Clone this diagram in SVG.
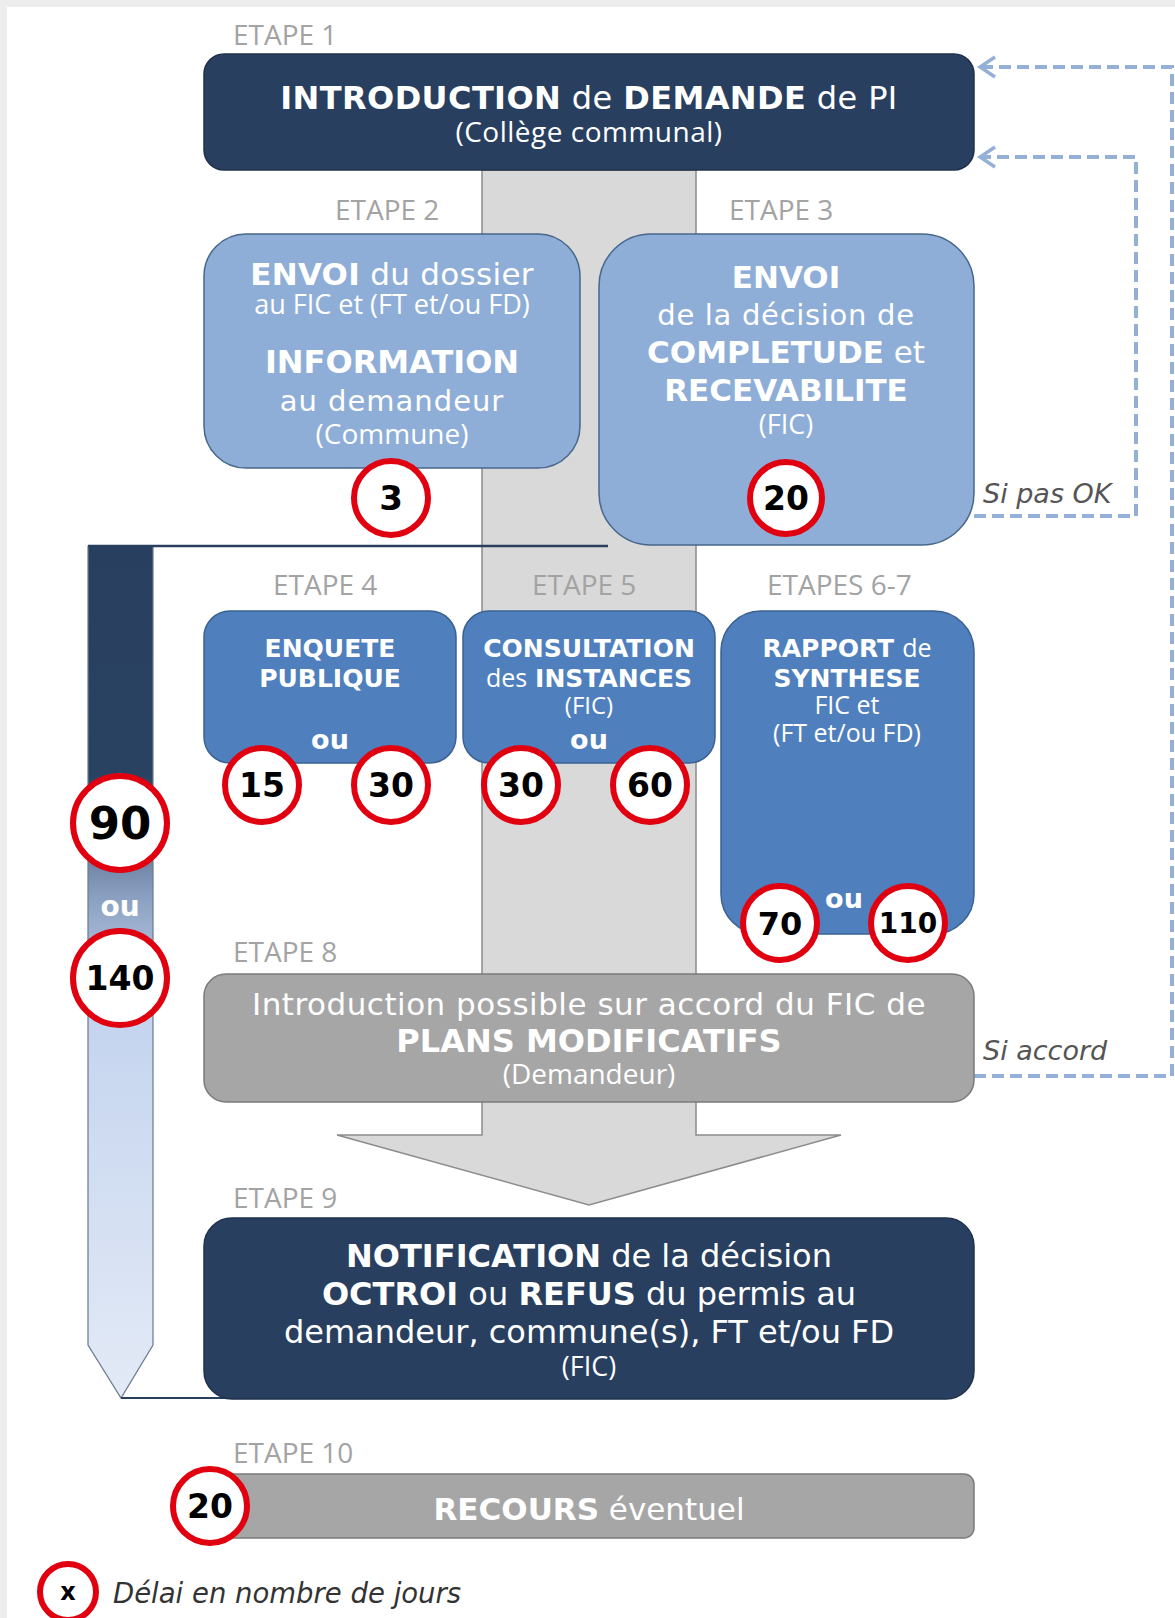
<svg xmlns="http://www.w3.org/2000/svg" width="1175" height="1618" viewBox="0 0 1175 1618">
<defs>
<style>
.lbl{font-family:"Open Sans","DejaVu Sans",sans-serif;font-size:28px;fill:#a3a3a3}
.t{font-family:"DejaVu Sans",sans-serif;fill:#fff;text-anchor:middle}
.b{font-weight:bold}
.os{font-family:"Open Sans","DejaVu Sans",sans-serif}
.navy{fill:#283f5f;stroke:#1f324c;stroke-width:1.5}
.lb{fill:#8eaed7;stroke:#48678c;stroke-width:1.5}
.mb{fill:#4f80bd;stroke:#3a6192;stroke-width:1.5}
.gr{fill:#a6a6a6;stroke:#7b7b7b;stroke-width:1.5}
.ring{fill:#fff;stroke:#e1000f;stroke-width:6}
.num{font-family:"DejaVu Sans",sans-serif;font-weight:bold;fill:#000;text-anchor:middle}
.dash{fill:none;stroke:#94b0d6;stroke-width:4;stroke-dasharray:12 6}
.note{font-family:"DejaVu Sans",sans-serif;font-style:italic;fill:#555;font-size:27px}
</style>
<marker id="arr" viewBox="0 0 20 24" refX="17" refY="12" markerWidth="20" markerHeight="24" markerUnits="userSpaceOnUse" orient="auto">
<path d="M2,2 L17,12 L2,22" fill="none" stroke="#94b0d6" stroke-width="3.5"/>
</marker>
<linearGradient id="barg" x1="0" y1="0" x2="0" y2="1">
<stop offset="0" stop-color="#283f5f"/>
<stop offset="0.27" stop-color="#2a4262"/>
<stop offset="0.41" stop-color="#8a9fc0"/>
<stop offset="0.53" stop-color="#c3d3ee"/>
<stop offset="1" stop-color="#e3eaf6"/>
</linearGradient>
</defs>

<rect x="0" y="0" width="1175" height="1618" fill="#ededed"/>
<rect x="7" y="7" width="1168" height="1611" fill="#fff"/>

<!-- background central arrow -->
<g id="main-arrow">
<polygon points="482,170 696,170 696,1135 841,1135 589,1205 337,1135 482,1135" fill="#d9d9d9" stroke="#8c8c8c" stroke-width="1.5"/>
</g>

<!-- left time bar -->
<g id="time-bar">
<polygon points="88,546 153,546 153,1345 121,1398 88,1345" fill="url(#barg)" stroke="#6a7a90" stroke-width="1.2"/>
<text class="t b" x="120" y="916" font-size="28">ou</text>
</g>

<g id="connectors">
<line x1="88" y1="546" x2="608" y2="546" stroke="#283f5f" stroke-width="2.5"/>
<line x1="121" y1="1398" x2="236" y2="1398" stroke="#283f5f" stroke-width="2"/>
<path class="dash" d="M974,516 H1136 V157 H980" marker-end="url(#arr)"/>
<path class="dash" d="M974,1076 H1172 V67 H980" marker-end="url(#arr)"/>
</g>

<!-- labels -->
<g id="labels">
<text class="lbl" x="233" y="45">ETAPE 1</text>
<text class="lbl" x="335" y="220">ETAPE 2</text>
<text class="lbl" x="729" y="220">ETAPE 3</text>
<text class="lbl" x="273" y="595">ETAPE 4</text>
<text class="lbl" x="532" y="595">ETAPE 5</text>
<text class="lbl" x="767" y="595">ETAPES 6-7</text>
<text class="lbl" x="233" y="962">ETAPE 8</text>
<text class="lbl" x="233" y="1208">ETAPE 9</text>
<text class="lbl" x="233" y="1463">ETAPE 10</text>
<text class="note" x="983" y="503">Si pas OK</text>
<text class="note" x="983" y="1060">Si accord</text>
</g>

<g id="etape1">
<rect class="navy" x="204" y="54" width="770" height="116" rx="20"/>
<text class="t" x="589" y="109" font-size="32" letter-spacing="0.4"><tspan class="b">INTRODUCTION</tspan> de <tspan class="b">DEMANDE</tspan> de PI</text>
<text class="t os" x="589" y="142" font-size="28" letter-spacing="0.5">(Collège communal)</text>
</g>

<g id="etape2">
<rect class="lb" x="204" y="234" width="376" height="234" rx="42"/>
<text class="t" x="392" y="285" font-size="31" letter-spacing="0.3"><tspan class="b">ENVOI</tspan> du dossier</text>
<text class="t os" x="392" y="314" font-size="27">au FIC et (FT et/ou FD)</text>
<text class="t b" x="392" y="373" font-size="32">INFORMATION</text>
<text class="t" x="392" y="411" font-size="29" letter-spacing="1">au demandeur</text>
<text class="t os" x="392" y="444" font-size="28">(Commune)</text>
<circle class="ring" cx="391" cy="498" r="37"/>
<text class="num" x="391" y="510" font-size="34">3</text>
</g>

<g id="etape3">
<rect class="lb" x="599" y="234" width="375" height="311" rx="52"/>
<text class="t b" x="786" y="288" font-size="31">ENVOI</text>
<text class="t" x="786" y="325" font-size="29" letter-spacing="0.7">de la décision de</text>
<text class="t" x="786" y="363" font-size="31"><tspan class="b">COMPLETUDE</tspan> et</text>
<text class="t b" x="786" y="401" font-size="31">RECEVABILITE</text>
<text class="t os" x="786" y="434" font-size="27">(FIC)</text>
<circle class="ring" cx="786" cy="498" r="36"/>
<text class="num" x="786" y="510" font-size="33">20</text>
</g>

<g id="etape4">
<rect class="mb" x="204" y="611" width="252" height="152" rx="26"/>
<text class="t b" x="330" y="657" font-size="25">ENQUETE</text>
<text class="t b" x="330" y="687" font-size="25">PUBLIQUE</text>
<text class="t b" x="330" y="749" font-size="27">ou</text>
<circle class="ring" cx="262" cy="785" r="37"/>
<text class="num" x="262" y="797" font-size="33">15</text>
<circle class="ring" cx="391" cy="785" r="37"/>
<text class="num" x="391" y="797" font-size="33">30</text>
</g>

<g id="etape5">
<rect class="mb" x="463" y="611" width="252" height="152" rx="26"/>
<text class="t b" x="589" y="657" font-size="25">CONSULTATION</text>
<text class="t" x="589" y="687" font-size="25"><tspan class="os" font-weight="normal">des</tspan> <tspan class="b">INSTANCES</tspan></text>
<text class="t os" x="589" y="714" font-size="24">(FIC)</text>
<text class="t b" x="589" y="749" font-size="27">ou</text>
<circle class="ring" cx="521" cy="785" r="37"/>
<text class="num" x="521" y="797" font-size="33">30</text>
<circle class="ring" cx="650" cy="785" r="37"/>
<text class="num" x="650" y="797" font-size="33">60</text>
</g>

<g id="etape6-7">
<rect class="mb" x="721" y="611" width="253" height="323" rx="40"/>
<text class="t" x="847" y="657" font-size="25"><tspan class="b">RAPPORT</tspan> <tspan class="os">de</tspan></text>
<text class="t b" x="847" y="687" font-size="25">SYNTHESE</text>
<text class="t os" x="847" y="714" font-size="25">FIC et</text>
<text class="t os" x="847" y="742" font-size="25">(FT et/ou FD)</text>
<text class="t b" x="844" y="908" font-size="27">ou</text>
<circle class="ring" cx="780" cy="923" r="37"/>
<text class="num" x="780" y="935" font-size="32">70</text>
<circle class="ring" cx="908" cy="923" r="37"/>
<text class="num" x="908" y="933" font-size="28">110</text>
</g>

<g id="duree">
<circle class="ring" cx="120" cy="823" r="47" stroke-width="8"/>
<text class="num" x="120" y="839" font-size="45">90</text>
<circle class="ring" cx="120" cy="978" r="47" stroke-width="8"/>
<text class="num" x="120" y="990" font-size="33">140</text>
</g>

<g id="etape8">
<rect class="gr" x="204" y="974" width="770" height="128" rx="22"/>
<text class="t" x="589" y="1015" font-size="31" fill="#f4f4f4" letter-spacing="0.5">Introduction possible sur accord du FIC de</text>
<text class="t b" x="589" y="1052" font-size="32">PLANS MODIFICATIFS</text>
<text class="t os" x="589" y="1084" font-size="28">(Demandeur)</text>
</g>

<g id="etape9">
<rect class="navy" x="204" y="1218" width="770" height="181" rx="28"/>
<text class="t" x="589" y="1267" font-size="32"><tspan class="b">NOTIFICATION</tspan> de la décision</text>
<text class="t" x="589" y="1305" font-size="32"><tspan class="b">OCTROI</tspan> ou <tspan class="b">REFUS</tspan> du permis au</text>
<text class="t" x="589" y="1343" font-size="32">demandeur, commune(s), FT et/ou FD</text>
<text class="t os" x="589" y="1376" font-size="27">(FIC)</text>
</g>

<g id="etape10">
<rect class="gr" x="222" y="1474" width="752" height="64" rx="10"/>
<text class="t" x="589" y="1520" font-size="31"><tspan class="b">RECOURS</tspan> éventuel</text>
<circle class="ring" cx="210" cy="1506" r="37"/>
<text class="num" x="210" y="1518" font-size="33">20</text>
</g>

<g id="legend">
<circle class="ring" cx="68" cy="1592" r="28" stroke-width="4.5"/>
<text class="num" x="68" y="1600" font-size="24">x</text>
<text class="note" x="113" y="1603" style="font-size:27.5px;fill:#333">Délai en nombre de jours</text>
</g>
</svg>
